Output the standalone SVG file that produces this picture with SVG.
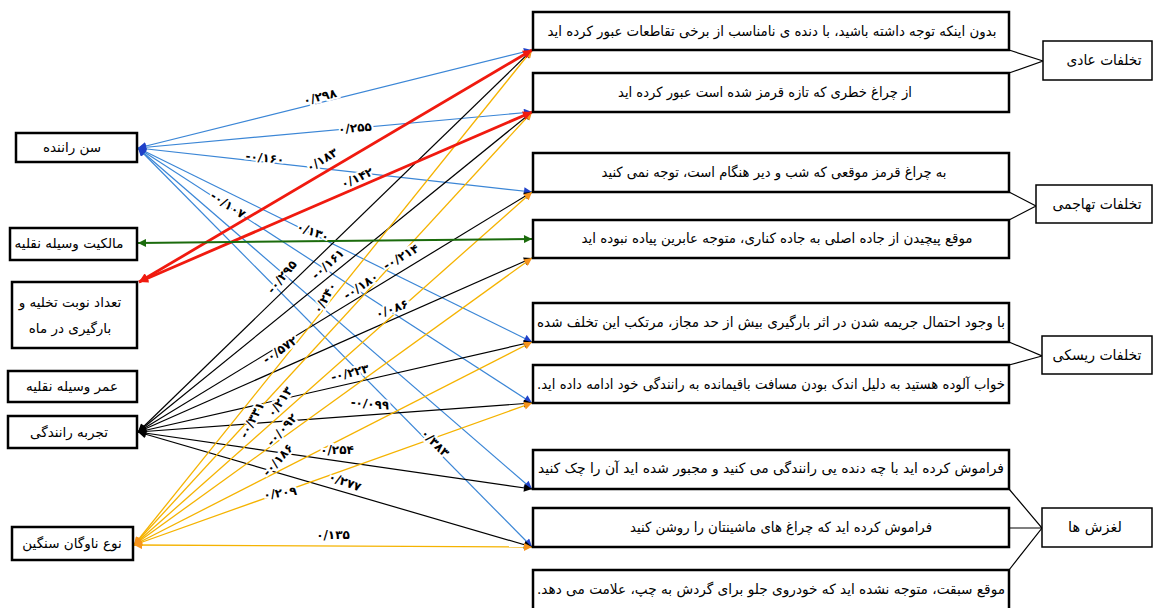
<svg xmlns="http://www.w3.org/2000/svg" width="1154" height="608" viewBox="0 0 1154 608">
<style>
.nb{fill:#fff;stroke:#000;stroke-width:2.5}
.cb{fill:#fff;stroke:#000;stroke-width:1.5}
.t{font-family:'DejaVu Sans',sans-serif;font-size:13.5px;fill:#000;text-anchor:middle;direction:rtl}
.tb{font-size:14px}
.tc{font-size:14.5px}
.lbl{font-family:'DejaVu Sans',sans-serif;font-size:12px;font-weight:bold;fill:#000;stroke:#fff;stroke-width:4;paint-order:stroke;text-anchor:middle;dominant-baseline:central}
.bl{stroke:#3b86d6;stroke-width:1.2;fill:none;marker-start:url(#mB);marker-end:url(#mB)}
.bk{stroke:#000;stroke-width:1.2;fill:none;marker-start:url(#mK);marker-end:url(#mK)}
.or{stroke:#f5b301;stroke-width:1.3;fill:none;marker-start:url(#mO);marker-end:url(#mO)}
.rd{stroke:#f01a0f;stroke-width:2.8;fill:none;marker-start:url(#mR);marker-end:url(#mR)}
.gr{stroke:#1b6b0c;stroke-width:2;fill:none;marker-start:url(#mG);marker-end:url(#mG)}
.jn{stroke:#000;stroke-width:1.2;fill:none}
</style>
<defs>
<marker id="mB" viewBox="0 0 10 10" refX="10" refY="5" markerWidth="10" markerHeight="8" markerUnits="userSpaceOnUse" orient="auto-start-reverse"><path d="M0,0L10,5L0,10z" fill="#1f40c8"/></marker>
<marker id="mK" viewBox="0 0 10 10" refX="10" refY="5" markerWidth="10" markerHeight="8" markerUnits="userSpaceOnUse" orient="auto-start-reverse"><path d="M0,0L10,5L0,10z" fill="#000"/></marker>
<marker id="mO" viewBox="0 0 10 10" refX="10" refY="5" markerWidth="10" markerHeight="8" markerUnits="userSpaceOnUse" orient="auto-start-reverse"><path d="M0,0L10,5L0,10z" fill="#f7941d"/></marker>
<marker id="mR" viewBox="0 0 10 10" refX="10" refY="5" markerWidth="12" markerHeight="9" markerUnits="userSpaceOnUse" orient="auto-start-reverse"><path d="M0,0L10,5L0,10z" fill="#f01a0f"/></marker>
<marker id="mG" viewBox="0 0 10 10" refX="10" refY="5" markerWidth="11" markerHeight="8" markerUnits="userSpaceOnUse" orient="auto-start-reverse"><path d="M0,0L10,5L0,10z" fill="#1b6b0c"/></marker>
</defs>
<rect width="1154" height="608" fill="#fff"/>

<g id="connectors">
<line class="bl" x1="138" y1="148" x2="532" y2="50"/>
<line class="bl" x1="138" y1="148" x2="532" y2="112"/>
<line class="bl" x1="138" y1="148" x2="532" y2="192"/>
<line class="bl" x1="138" y1="148" x2="532" y2="342"/>
<line class="bl" x1="138" y1="148" x2="532" y2="403"/>
<line class="bl" x1="138" y1="148" x2="532" y2="489"/>
<line class="bl" x1="138" y1="148" x2="532" y2="547"/>
<line class="bk" x1="138" y1="432" x2="532" y2="50"/>
<line class="bk" x1="138" y1="432" x2="532" y2="112"/>
<line class="bk" x1="138" y1="432" x2="532" y2="192"/>
<line class="bk" x1="138" y1="432" x2="532" y2="258"/>
<line class="bk" x1="138" y1="432" x2="532" y2="342"/>
<line class="bk" x1="138" y1="432" x2="532" y2="403"/>
<line class="bk" x1="138" y1="432" x2="532" y2="489"/>
<line class="bk" x1="138" y1="432" x2="532" y2="547"/>
<line class="or" x1="134" y1="545" x2="532" y2="50"/>
<line class="or" x1="134" y1="545" x2="532" y2="112"/>
<line class="or" x1="134" y1="545" x2="532" y2="192"/>
<line class="or" x1="134" y1="545" x2="532" y2="258"/>
<line class="or" x1="134" y1="545" x2="532" y2="342"/>
<line class="or" x1="134" y1="545" x2="532" y2="403"/>
<line class="or" x1="134" y1="545" x2="532" y2="547"/>
<line class="rd" x1="139" y1="282" x2="532" y2="50"/>
<line class="rd" x1="139" y1="282" x2="532" y2="112"/>
<line class="gr" x1="138" y1="243" x2="532" y2="239"/>
<path class="jn" d="M1009,50L1043,61L1009,73"/>
<path class="jn" d="M1009,192L1036,206L1009,220"/>
<path class="jn" d="M1009,342L1042,356L1009,365"/>
<path class="jn" d="M1009,489L1042,528L1009,570M1009,528L1042,528"/>
<text class="lbl" transform="translate(320,97) rotate(-14)">۰/۲۹۸</text>
<text class="lbl" transform="translate(355,128) rotate(-5)">۰/۲۵۵</text>
<text class="lbl" transform="translate(265,158) rotate(6)">-۰/۱۶۰</text>
<text class="lbl" transform="translate(322,160) rotate(-31)">۰/۱۸۳</text>
<text class="lbl" transform="translate(357,178) rotate(-24)">۰/۱۴۲</text>
<text class="lbl" transform="translate(228,205) rotate(33)">-۰/۱۰۷</text>
<text class="lbl" transform="translate(313,232) rotate(20)">۰/۱۳۰</text>
<text class="lbl" transform="translate(282,277) rotate(-50)">-۰/۲۹۵</text>
<text class="lbl" transform="translate(328,264) rotate(-42)">-۰/۱۶۱</text>
<text class="lbl" transform="translate(401,257) rotate(-30)">-۰/۲۱۴</text>
<text class="lbl" transform="translate(361,286) rotate(-33)">-۰/۱۸۰</text>
<text class="lbl" transform="translate(325,298) rotate(-60)">۰/۲۴۰</text>
<text class="lbl" transform="translate(392,309) rotate(-20)">۰/۰۸۶</text>
<text class="lbl" transform="translate(280,350) rotate(-35)">-۰/۵۷۲</text>
<text class="lbl" transform="translate(350,373) rotate(-14)">-۰/۲۲۳</text>
<text class="lbl" transform="translate(252,420) rotate(-62)">-۰/۳۳۱</text>
<text class="lbl" transform="translate(280,402) rotate(-55)">۰/۲۱۳</text>
<text class="lbl" transform="translate(370,404) rotate(5)">-۰/۰۹۹</text>
<text class="lbl" transform="translate(282,430) rotate(-48)">-۰/۰۹۲</text>
<text class="lbl" transform="translate(337,450) rotate(0)">۰/۲۵۴</text>
<text class="lbl" transform="translate(278,460) rotate(-48)">-۰/۱۸۶</text>
<text class="lbl" transform="translate(345,482) rotate(20)">۰/۲۷۷</text>
<text class="lbl" transform="translate(280,493) rotate(-8)">۰/۲۰۹</text>
<text class="lbl" transform="translate(333,535)">۰/۱۳۵</text>
<text class="lbl" transform="translate(435,443) rotate(45)">۰/۳۸۳</text>
</g>

<g id="n-age"><rect class="nb" x="16" y="133" width="121" height="29"/><text class="t" x="72" y="152">سن راننده</text></g>
<g id="n-ownership"><rect class="nb" x="10" y="228" width="127" height="32"/><text class="t" x="69" y="248">مالکیت وسیله نقلیه</text></g>
<g id="n-loads"><rect class="nb" x="12" y="282" width="125" height="66"/><text class="t" x="70" y="307">تعداد نوبت تخلیه و</text><text class="t" x="70" y="333">بارگیری در ماه</text></g>
<g id="n-vehicleage"><rect class="nb" x="8" y="371" width="129" height="31"/><text class="t" x="72" y="391">عمر وسیله نقلیه</text></g>
<g id="n-experience"><rect class="nb" x="8" y="416" width="129" height="32"/><text class="t" x="69" y="437">تجربه رانندگی</text></g>
<g id="n-fleet"><rect class="nb" x="12" y="527" width="121" height="33"/><text class="t" x="72" y="548">نوع ناوگان سنگین</text></g>

<g id="b1"><rect class="nb" x="533" y="12" width="476" height="38"/><text class="t tb" x="772" y="36" textLength="449" lengthAdjust="spacingAndGlyphs">بدون اینکه توجه داشته باشید، با دنده ی نامناسب از برخی تقاطعات عبور کرده اید</text></g>
<g id="b2"><rect class="nb" x="533" y="73" width="476" height="39"/><text class="t tb" x="765" y="97" textLength="294" lengthAdjust="spacingAndGlyphs">از چراغ خطری که تازه قرمز شده است عبور کرده اید</text></g>
<g id="b3"><rect class="nb" x="533" y="153" width="476" height="39"/><text class="t tb" x="774" y="177" textLength="345" lengthAdjust="spacingAndGlyphs">به چراغ قرمز موقعی که شب و دیر هنگام است، توجه نمی کنید</text></g>
<g id="b4"><rect class="nb" x="533" y="220" width="476" height="38"/><text class="t tb" x="777" y="243" textLength="391" lengthAdjust="spacingAndGlyphs">موقع پیچیدن از جاده اصلی به جاده کناری، متوجه عابرین پیاده نبوده اید</text></g>
<g id="b5"><rect class="nb" x="533" y="303" width="476" height="39"/><text class="t tb" x="771" y="327" textLength="468" lengthAdjust="spacingAndGlyphs">با وجود احتمال جریمه شدن در اثر بارگیری بیش از حد مجاز، مرتکب این تخلف شده</text></g>
<g id="b6"><rect class="nb" x="533" y="365" width="476" height="38"/><text class="t tb" x="771" y="389" textLength="468" lengthAdjust="spacingAndGlyphs">خواب آلوده هستید به دلیل اندک بودن مسافت باقیمانده به رانندگی خود ادامه داده اید.</text></g>
<g id="b7"><rect class="nb" x="533" y="450" width="476" height="39"/><text class="t tb" x="771" y="473" textLength="466" lengthAdjust="spacingAndGlyphs">فراموش کرده اید با چه دنده یی رانندگی می کنید و مجبور شده اید آن را چک کنید</text></g>
<g id="b8"><rect class="nb" x="533" y="508" width="476" height="39"/><text class="t tb" x="781" y="532" textLength="302" lengthAdjust="spacingAndGlyphs">فراموش کرده اید که چراغ های ماشینتان را روشن کنید</text></g>
<g id="b9"><rect class="nb" x="533" y="570" width="476" height="50"/><text class="t tb" x="771" y="594" textLength="468" lengthAdjust="spacingAndGlyphs">موقع سبقت، متوجه نشده اید که خودروی جلو برای گردش به چپ، علامت می دهد.</text></g>

<g id="c1"><rect class="cb" x="1043" y="41" width="109" height="39"/><text class="t tc" x="1104" y="65" textLength="75" lengthAdjust="spacingAndGlyphs">تخلفات عادی</text></g>
<g id="c2"><rect class="cb" x="1036" y="185" width="116" height="38"/><text class="t tc" x="1097" y="209" textLength="89" lengthAdjust="spacingAndGlyphs">تخلفات تهاجمی</text></g>
<g id="c3"><rect class="cb" x="1042" y="336" width="110" height="38"/><text class="t tc" x="1097" y="360" textLength="89" lengthAdjust="spacingAndGlyphs">تخلفات ریسکی</text></g>
<g id="c4"><rect class="cb" x="1042" y="508" width="110" height="39"/><text class="t tc" x="1095" y="532">لغزش ها</text></g>
</svg>
